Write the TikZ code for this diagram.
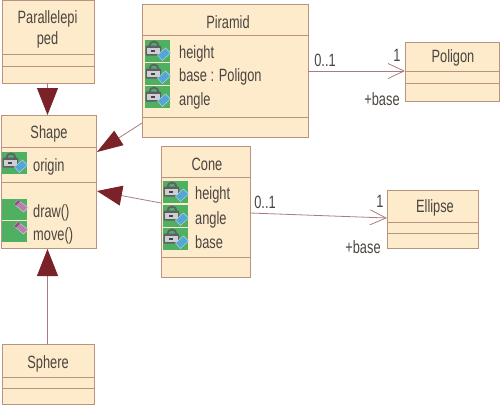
\documentclass[tikz,border=0pt]{standalone}
\usepackage{fontspec}
\setmainfont[FakeStretch=0.72]{Liberation Sans}
\usetikzlibrary{arrows.meta}
\definecolor{fillc}{HTML}{FDEBCB}
\definecolor{linec}{HTML}{B8937F}
\definecolor{conn}{HTML}{A87C80}
\definecolor{tipc}{HTML}{7B2128}
\definecolor{txt}{HTML}{4A4540}
\definecolor{grn}{HTML}{4FB061}
\definecolor{lockc}{HTML}{5F5F68}
\definecolor{bluec}{HTML}{55A6D6}
\definecolor{pinkc}{HTML}{B77FB0}
\tikzset{
  classbox/.style={draw=linec,fill=fillc,line width=1pt,anchor=north west,inner sep=0pt,outer sep=0pt},
  sep/.style={draw=linec,line width=1pt},
  lbl/.style={text=txt,font=\fontsize{17.8}{20}\selectfont,inner sep=0pt},
  item/.style={lbl,anchor=base west},
  gen/.style={draw=conn,line width=0.8pt,-{Triangle[length=27pt,width=21pt,color=tipc,fill=tipc]}},
  genslim/.style={draw=conn,line width=0.8pt,-{Triangle[length=26pt,width=17pt,color=tipc,fill=tipc]}},
  genmid/.style={draw=conn,line width=0.8pt,-{Triangle[length=25pt,width=20pt,color=tipc,fill=tipc]}},
  assoc/.style={draw=conn,line width=0.8pt,-{Straight Barb[length=16pt,width=15pt,color=conn,line width=0.8pt]}},
}
% x y
\newcommand{\attricon}[2]{%
  \begin{scope}[shift={(#1,#2)}]
    \fill[grn] (0,0) rectangle (25,21.5);
    \draw[lockc,line width=1.8pt] (4.5,6) arc[start angle=180,end angle=360,x radius=4.5,y radius=4.5];
    \fill[lockc,rounded corners=1pt] (0.5,5.5) rectangle (16,15.5);
    \fill[white!70!lockc] (2,7.5) rectangle (14.5,13.5);
    \fill[lockc!70!black] (6,9.5) rectangle (9.5,11.5);
    \fill[bluec,draw=white!60!bluec,line width=.4pt] (12.5,15) -- (20.5,8) -- (25.5,13) -- (17.5,20.5) -- cycle;
  \end{scope}}
\newcommand{\opicon}[2]{%
  \begin{scope}[shift={(#1,#2)}]
    \fill[grn] (0,0) rectangle (25,20.5);
    \fill[pinkc,draw=white!60!pinkc,line width=.4pt] (12,5) -- (16,1) -- (26,8.5) -- (21.5,13) -- cycle;
    \fill[pinkc!70!black] (12,5) -- (16,1) -- (18,2.5) -- (14,6.5) -- cycle;
  \end{scope}}
\begin{document}
\begin{tikzpicture}[x=1pt,y=-1pt]
\useasboundingbox (0,0) rectangle (500,405);
% class boxes
\node[classbox,minimum width=92pt,minimum height=83pt] (para) at (2,0) {};
\node[classbox,minimum width=95pt,minimum height=133pt] (shape) at (1,115) {};
\node[classbox,minimum width=166pt,minimum height=133pt] (pir) at (142,4) {};
\node[classbox,minimum width=89pt,minimum height=131pt] (cone) at (161,146) {};
\node[classbox,minimum width=94pt,minimum height=59pt] (poly) at (405,42) {};
\node[classbox,minimum width=91pt,minimum height=58pt] (ell) at (387,190) {};
\node[classbox,minimum width=92pt,minimum height=60pt] (sph) at (2,344) {};
% compartments
\draw[sep] (2,54) -- (94,54) (2,66) -- (94,66);
\draw[sep] (1,147) -- (96,147) (1,182) -- (96,182);
\draw[sep] (142,35) -- (308,35) (142,117) -- (308,117);
\draw[sep] (161,177) -- (250,177) (161,257) -- (250,257);
\draw[sep] (405,71) -- (499,71) (405,83) -- (499,83);
\draw[sep] (387,222) -- (478,222) (387,233) -- (478,233);
\draw[sep] (2,377) -- (94,377) (2,388) -- (94,388);
% names
\node[lbl] (t1) at (47.5,19) {Parallelepi};
\node[lbl] (t2) at (47.5,40) {ped};
\node[lbl] (t3) at (49,134) {Shape};
\node[lbl] (t4) at (228,22) {Piramid};
\node[lbl] (t5) at (207,164) {Cone};
\node[lbl] (t6) at (453,58) {Poligon};
\node[lbl] (t7) at (435,208) {Ellipse};
\node[lbl] (t8) at (48,364) {Sphere};
% icons
\attricon{2}{152}
\opicon{2}{199}
\opicon{2}{221}
\attricon{145}{40}
\attricon{145}{63}
\attricon{145}{86}
\attricon{163}{181}
\attricon{163}{205}
\attricon{163}{228}
% members
\node[item] (a1) at (33,171) {origin};
\node[item] (a2) at (33,217) {draw()};
\node[item] (a3) at (33,240) {move()};
\node[item] (b1) at (179,58) {height};
\node[item] (b2) at (179,81) {base : Poligon};
\node[item] (b3) at (179,105) {angle};
\node[item] (c1) at (195,199) {height};
\node[item] (c2) at (195,224) {angle};
\node[item] (c3) at (195,248) {base};
% connector ends
\coordinate (pirL) at (142,123);
\coordinate (shR1) at (97,152);
\coordinate (coneL) at (161,203);
\coordinate (shR2) at (97,191);
\coordinate (pirR) at (308,71);
\coordinate (polyL) at (405,71);
\coordinate (coneR) at (250,213);
\coordinate (ellL) at (387,218);
\coordinate (shT) at (47.5,115);
\coordinate (shB) at (47.5,249);
\coordinate (paraB) at (47.5,83);
\coordinate (sphT) at (47.5,344);
% connectors
\draw[gen] (paraB) -- (shT);
\draw[gen] (sphT) -- (shB);
\draw[genslim] (pirL) -- (shR1);
\draw[genmid] (coneL) -- (shR2);
\draw[assoc] (pirR) -- (polyL);
\draw[assoc] (coneR) -- (ellL);
% labels
\node[lbl] (m1) at (325,60) {0..1};
\node[lbl] (m2) at (397,55) {1};
\node[lbl] (m3) at (382,99) {+base};
\node[lbl] (m4) at (265,202) {0..1};
\node[lbl] (m5) at (380,201) {1};
\node[lbl] (m6) at (363,247) {+base};
\end{tikzpicture}
\end{document}
